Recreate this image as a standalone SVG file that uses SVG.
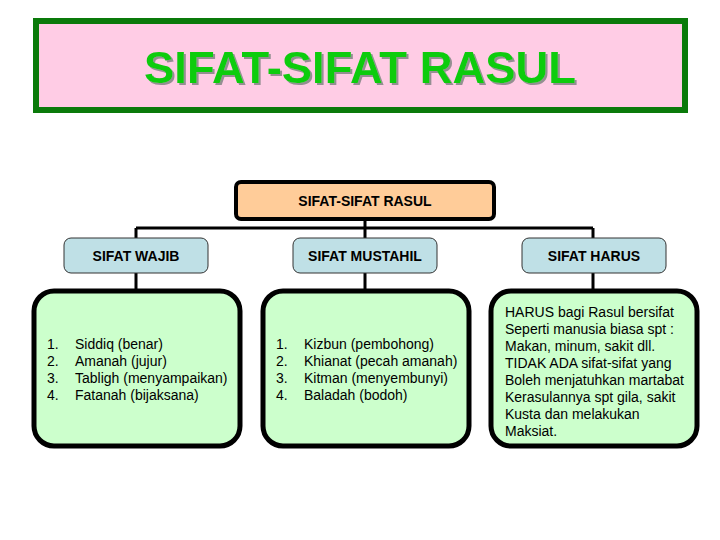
<svg xmlns="http://www.w3.org/2000/svg" width="720" height="540" viewBox="0 0 720 540">
<style>
.t{font-family:"Liberation Sans",Arial,sans-serif;fill:#000}
.lvl{fill:#BFE0E6;stroke:#333;stroke-width:1}
.grn{fill:#CCFFCC;stroke:#000;stroke-width:5}
.lbl{font-size:14px;font-weight:bold;text-anchor:middle}
.body{font-size:14px}
.con{stroke:#000;stroke-width:3;fill:none}
</style>
<defs>
<filter id="sh" x="-5%" y="-20%" width="110%" height="140%">
<feDropShadow dx="2" dy="2" stdDeviation="0.6" flood-color="#888" flood-opacity="0.9"/>
</filter>
</defs>
<rect width="720" height="540" fill="#fff"/>
<g id="title">
<rect x="36" y="21" width="649" height="89" fill="#FFCCE5" stroke="#0A7A0A" stroke-width="6"/>
<text x="360" y="83" class="t" font-size="45" font-weight="bold" text-anchor="middle" textLength="432" lengthAdjust="spacingAndGlyphs" filter="url(#sh)" style="fill:#11CC11">SIFAT-SIFAT RASUL</text>
</g>
<g id="connectors">
<path class="con" d="M365 220 V228 M136 228 H593 M136 228 V238 M365 228 V238 M593 228 V238"/>
<path class="con" d="M136 273 V291 M365 273 V291 M593 273 V291"/>
</g>
<g id="root">
<rect x="236" y="182" width="258" height="37" rx="5" fill="#FFCC99" stroke="#000" stroke-width="4"/>
<text x="365" y="206" class="t lbl">SIFAT-SIFAT RASUL</text>
</g>
<g id="wajib">
<rect x="64" y="238" width="144" height="35" rx="7" class="lvl"/>
<text x="136" y="261" class="t lbl">SIFAT WAJIB</text>
</g>
<g id="mustahil">
<rect x="293" y="238" width="144" height="35" rx="7" class="lvl"/>
<text x="365" y="261" class="t lbl">SIFAT MUSTAHIL</text>
</g>
<g id="harus">
<rect x="522" y="238" width="144" height="35" rx="7" class="lvl"/>
<text x="594" y="261" class="t lbl">SIFAT HARUS</text>
</g>
<g id="wajib-list">
<rect x="34" y="291" width="206" height="155" rx="20" class="grn"/>
<text class="t body"><tspan x="47" y="349">1.</tspan><tspan x="47" y="366">2.</tspan><tspan x="47" y="383">3.</tspan><tspan x="47" y="400">4.</tspan></text>
<text class="t body"><tspan x="75" y="349">Siddiq (benar)</tspan><tspan x="75" y="366">Amanah (jujur)</tspan><tspan x="75" y="383">Tabligh (menyampaikan)</tspan><tspan x="75" y="400">Fatanah (bijaksana)</tspan></text>
</g>
<g id="mustahil-list">
<rect x="263" y="291" width="206" height="155" rx="20" class="grn"/>
<text class="t body"><tspan x="276" y="349">1.</tspan><tspan x="276" y="366">2.</tspan><tspan x="276" y="383">3.</tspan><tspan x="276" y="400">4.</tspan></text>
<text class="t body"><tspan x="304" y="349">Kizbun (pembohong)</tspan><tspan x="304" y="366">Khianat (pecah amanah)</tspan><tspan x="304" y="383">Kitman (menyembunyi)</tspan><tspan x="304" y="400">Baladah (bodoh)</tspan></text>
</g>
<g id="harus-text">
<rect x="491" y="291" width="206" height="155" rx="20" class="grn"/>
<text class="t body"><tspan x="505" y="317">HARUS bagi Rasul bersifat</tspan><tspan x="505" y="334">Seperti manusia biasa spt :</tspan><tspan x="505" y="351">Makan, minum, sakit dll.</tspan><tspan x="505" y="368">TIDAK ADA sifat-sifat yang</tspan><tspan x="505" y="385">Boleh menjatuhkan martabat</tspan><tspan x="505" y="402">Kerasulannya spt gila, sakit</tspan><tspan x="505" y="419">Kusta dan melakukan</tspan><tspan x="505" y="436">Maksiat.</tspan></text>
</g>
</svg>
